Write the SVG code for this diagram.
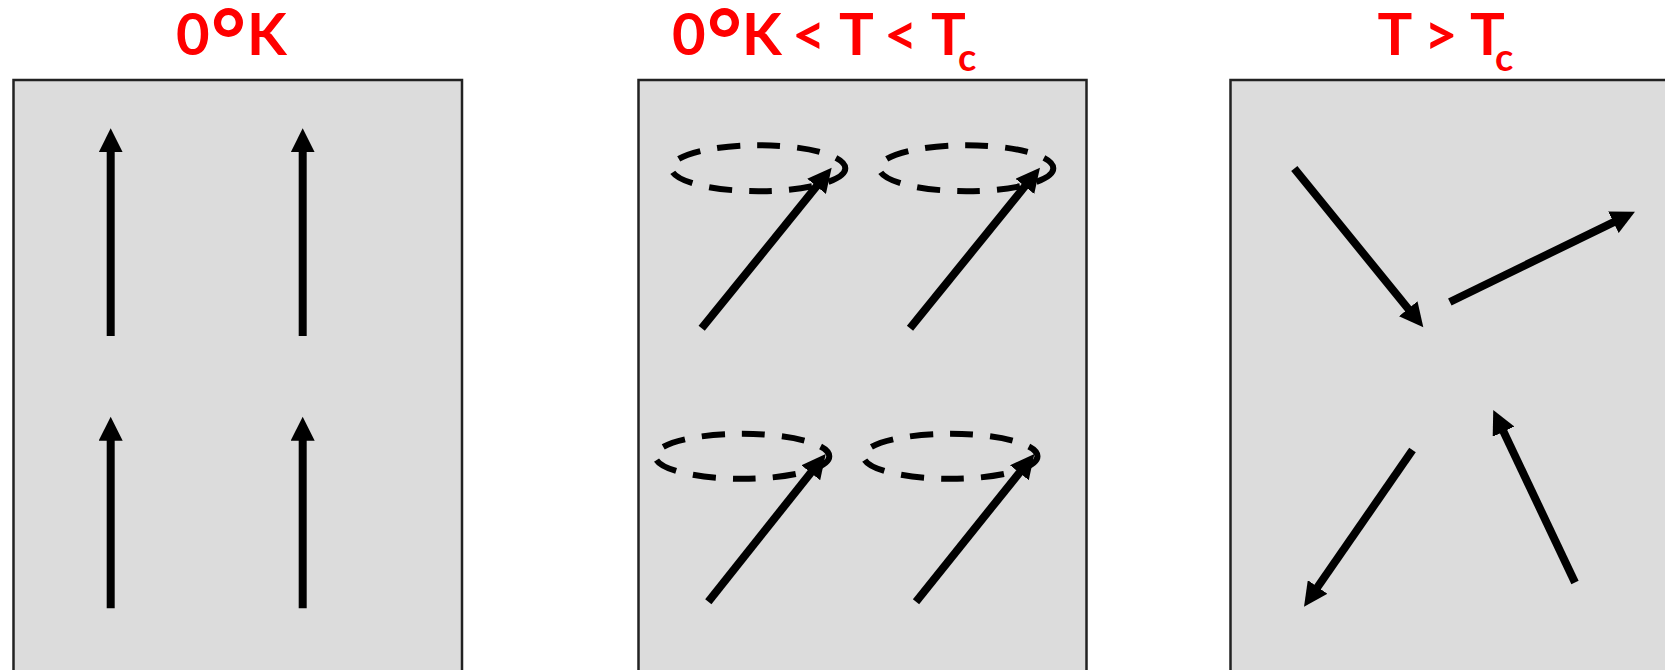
<svg xmlns="http://www.w3.org/2000/svg" width="1665" height="670" viewBox="0 0 1665 670">
  <style>
    .panel { fill: #DCDCDC; stroke: #222222; stroke-width: 2.5; }
    .title { font-family: Lato, "Open Sans", "Liberation Sans", sans-serif; font-weight: 700; font-size: 58px; fill: #FF0000; }
    .sub { font-size: 38px; }
    .deg { font-size: 84px; }
    .arrow { stroke: #000000; stroke-width: 8; fill: none; stroke-linecap: butt; marker-end: url(#head); }
    .orbit { fill: none; stroke: #000000; stroke-width: 6; stroke-dasharray: 23 17; }
  </style>
  <defs>
    <marker id="head" markerUnits="userSpaceOnUse" markerWidth="26" markerHeight="24" viewBox="0 0 26 24" refX="1" refY="12" orient="auto">
      <path d="M0,0 L24,12 L0,24 Z" fill="#000000"/>
    </marker>
  </defs>

  <rect width="1665" height="670" fill="#FFFFFF"/>

  <g id="panel-0K">
    <rect class="panel" x="13.5" y="80" width="448.5" height="620"/>
    <text class="title" y="54.5"><tspan x="176">0</tspan><tspan class="deg" x="211" y="70">°</tspan><tspan x="247" y="54.5">K</tspan></text>
  </g>

  <g id="panel-between">
    <rect class="panel" x="638.5" y="80" width="448" height="620"/>
    <text class="title" y="54.5"><tspan x="672">0</tspan><tspan class="deg" x="707" y="70">°</tspan><tspan x="742" y="54.5">K</tspan><tspan x="792">&lt;</tspan><tspan x="839">T</tspan><tspan x="884">&lt;</tspan><tspan x="931">T</tspan><tspan class="sub" x="958" y="71">c</tspan></text>
    <ellipse class="orbit" cx="758.3" cy="168.2" rx="87" ry="23"/>
    <ellipse class="orbit" cx="966.3" cy="168.2" rx="87" ry="23"/>
    <ellipse class="orbit" cx="742.3" cy="456.3" rx="87" ry="22.5"/>
    <ellipse class="orbit" cx="950.5" cy="456.3" rx="87" ry="22.5"/>
  </g>

  <g id="panel-above">
    <rect class="panel" x="1230.5" y="80" width="448" height="620"/>
    <text class="title" y="54.5"><tspan x="1377.5">T</tspan><tspan x="1424">&gt;</tspan><tspan x="1470">T</tspan><tspan class="sub" x="1495" y="71">c</tspan></text>
  </g>

  <g id="connectors">
    <line class="arrow" x1="110.7" y1="336" x2="110.7" y2="151.3"/>
    <line class="arrow" x1="302.7" y1="336" x2="302.7" y2="151.3"/>
    <line class="arrow" x1="110.7" y1="608.3" x2="110.7" y2="439.7"/>
    <line class="arrow" x1="302.7" y1="608.3" x2="302.7" y2="439.7"/>

    <line class="arrow" x1="701.7" y1="328.3" x2="817.2" y2="185.6"/>
    <line class="arrow" x1="910" y1="328.3" x2="1025.5" y2="185.6"/>
    <line class="arrow" x1="708.3" y1="601.7" x2="811.4" y2="472"/>
    <line class="arrow" x1="916" y1="601.7" x2="1020" y2="472"/>

    <line class="arrow" x1="1294.3" y1="168.5" x2="1408.8" y2="309.5"/>
    <line class="arrow" x1="1449.8" y1="302" x2="1614.3" y2="221.8"/>
    <line class="arrow" x1="1412.5" y1="450" x2="1317.1" y2="587.8"/>
    <line class="arrow" x1="1575" y1="582.5" x2="1503.1" y2="430.8"/>
  </g>
</svg>
